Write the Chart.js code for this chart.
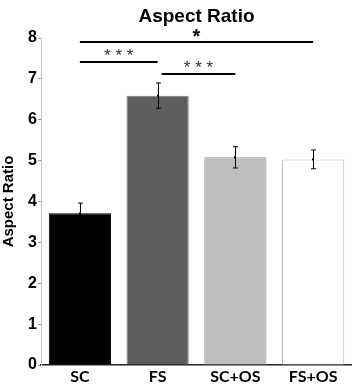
<!DOCTYPE html>
<html>
<head>
<meta charset="utf-8">
<script src="https://cdn.jsdelivr.net/npm/chart.js@4"></script>
<style>
  html, body { margin: 0; padding: 0; background: #fff; }
  #wrap { width: 352px; height: 388px; }
</style>
</head>
<body>
<div id="wrap"><canvas id="chart" width="352" height="388"></canvas></div>
<script>
// Values
const categories = ['SC', 'FS', 'SC+OS', 'FS+OS'];
const means = [3.71, 6.59, 5.08, 5.03];
const errors = [0.25, 0.31, 0.26, 0.23];
const yTicks = [0, 1, 2, 3, 4, 5, 6, 7, 8];

// significance brackets: from category, to category, height, label
const sigFrom = [0, 0, 1];
const sigTo = [3, 1, 2];
const sigLevel = [7.9, 7.41, 7.11];
const sigLabel = ['*', '***', '***'];

const fills = ['#000000', '#5e5e5e', '#bdbdbd', '#ffffff'];
const borders = ['#000000', '#7a7a7a', '#9a9a9a', '#bdbdbd'];

// error bars and significance lines drawn on top of the bars
const overlay = {
    id: 'overlay',
    afterDatasetsDraw(chart) {
        const ctx = chart.ctx;
        const x = chart.scales.x;
        const y = chart.scales.y;
        ctx.save();
        ctx.strokeStyle = '#000';
        ctx.fillStyle = '#000';
        ctx.lineWidth = 1;
        means.forEach((m, i) => {
            const cx = Math.round(x.getPixelForValue(i)) + 0.5;
            const top = y.getPixelForValue(m + errors[i]);
            const bot = y.getPixelForValue(m - errors[i]);
            ctx.beginPath();
            ctx.moveTo(cx, top);
            ctx.lineTo(cx, bot);
            ctx.moveTo(cx - 2.5, top);
            ctx.lineTo(cx + 2.5, top);
            ctx.moveTo(cx - 2.5, bot);
            ctx.lineTo(cx + 2.5, bot);
            ctx.stroke();
            ctx.fillRect(cx - 1.5, y.getPixelForValue(m) - 1, 2, 2);
        });

        ctx.lineWidth = 2;
        sigLevel.forEach((lv, k) => {
            const x1 = x.getPixelForValue(sigFrom[k]) + (k === 2 ? 4 : 0);
            const x2 = x.getPixelForValue(sigTo[k]);
            const py = Math.round(y.getPixelForValue(lv));
            ctx.strokeStyle = '#000';
            ctx.beginPath();
            ctx.moveTo(x1, py);
            ctx.lineTo(x2, py);
            ctx.stroke();
            const mid = (x1 + x2) / 2;
            ctx.textAlign = 'center';
            ctx.textBaseline = 'middle';
            if (sigLabel[k] === '*') {
                ctx.fillStyle = '#000';
                ctx.font = 'bold 20px "Liberation Sans", Arial, sans-serif';
                ctx.fillText('*', mid, py - 5);
            } else {
                ctx.fillStyle = '#333';
                ctx.font = '17px "Liberation Sans", Arial, sans-serif';
                ctx.fillText('* * *', mid, py - 6);
            }
        });

        // chart title
        ctx.fillStyle = '#000';
        ctx.font = 'bold 19px "Liberation Sans", Arial, sans-serif';
        ctx.textAlign = 'center';
        ctx.textBaseline = 'middle';
        ctx.fillText('Aspect Ratio', (chart.chartArea.left + chart.chartArea.right) / 2, 17);
        ctx.restore();
    }
};

new Chart(document.getElementById('chart'), {
    type: 'bar',
    data: {
        labels: categories,
        datasets: [{
            data: means,
            backgroundColor: fills,
            borderColor: borders,
            borderWidth: 1,
            borderSkipped: 'bottom',
            barPercentage: 0.8,
            categoryPercentage: 1.0
        }]
    },
    options: {
        responsive: false,
        animation: false,
        events: [],
        layout: { padding: { top: 38, right: 0, left: 0, bottom: 0 } },
        plugins: {
            legend: { display: false },
            tooltip: { enabled: false }
        },
        scales: {
            x: {
                grid: { display: false, drawTicks: false },
                border: { color: '#222', width: 1.5 },
                ticks: {
                    color: '#000',
                    padding: 2,
                    font: { family: 'Lato, "Open Sans", sans-serif', weight: 'bold', size: 16 }
                },
                afterFit(scale) { scale.height = 23; }
            },
            y: {
                min: 0,
                max: 8,
                afterBuildTicks(scale) { scale.ticks = yTicks.map(v => ({ value: v })); },
                grid: { drawOnChartArea: false, drawTicks: true, tickLength: 3, color: '#999' },
                border: { color: '#c8c8c8', width: 1 },
                ticks: {
                    color: '#000',
                    padding: 1,
                    font: { family: '"Liberation Sans", Arial, sans-serif', weight: 'bold', size: 16 }
                },
                title: {
                    display: true,
                    text: 'Aspect Ratio',
                    color: '#000',
                    padding: { top: 0, bottom: 0 },
                    font: { family: '"Liberation Sans", Arial, sans-serif', weight: 'bold', size: 15 }
                },
                afterFit(scale) { scale.width = 41; }
            }
        }
    },
    plugins: [overlay]
});
</script>
</body>
</html>
